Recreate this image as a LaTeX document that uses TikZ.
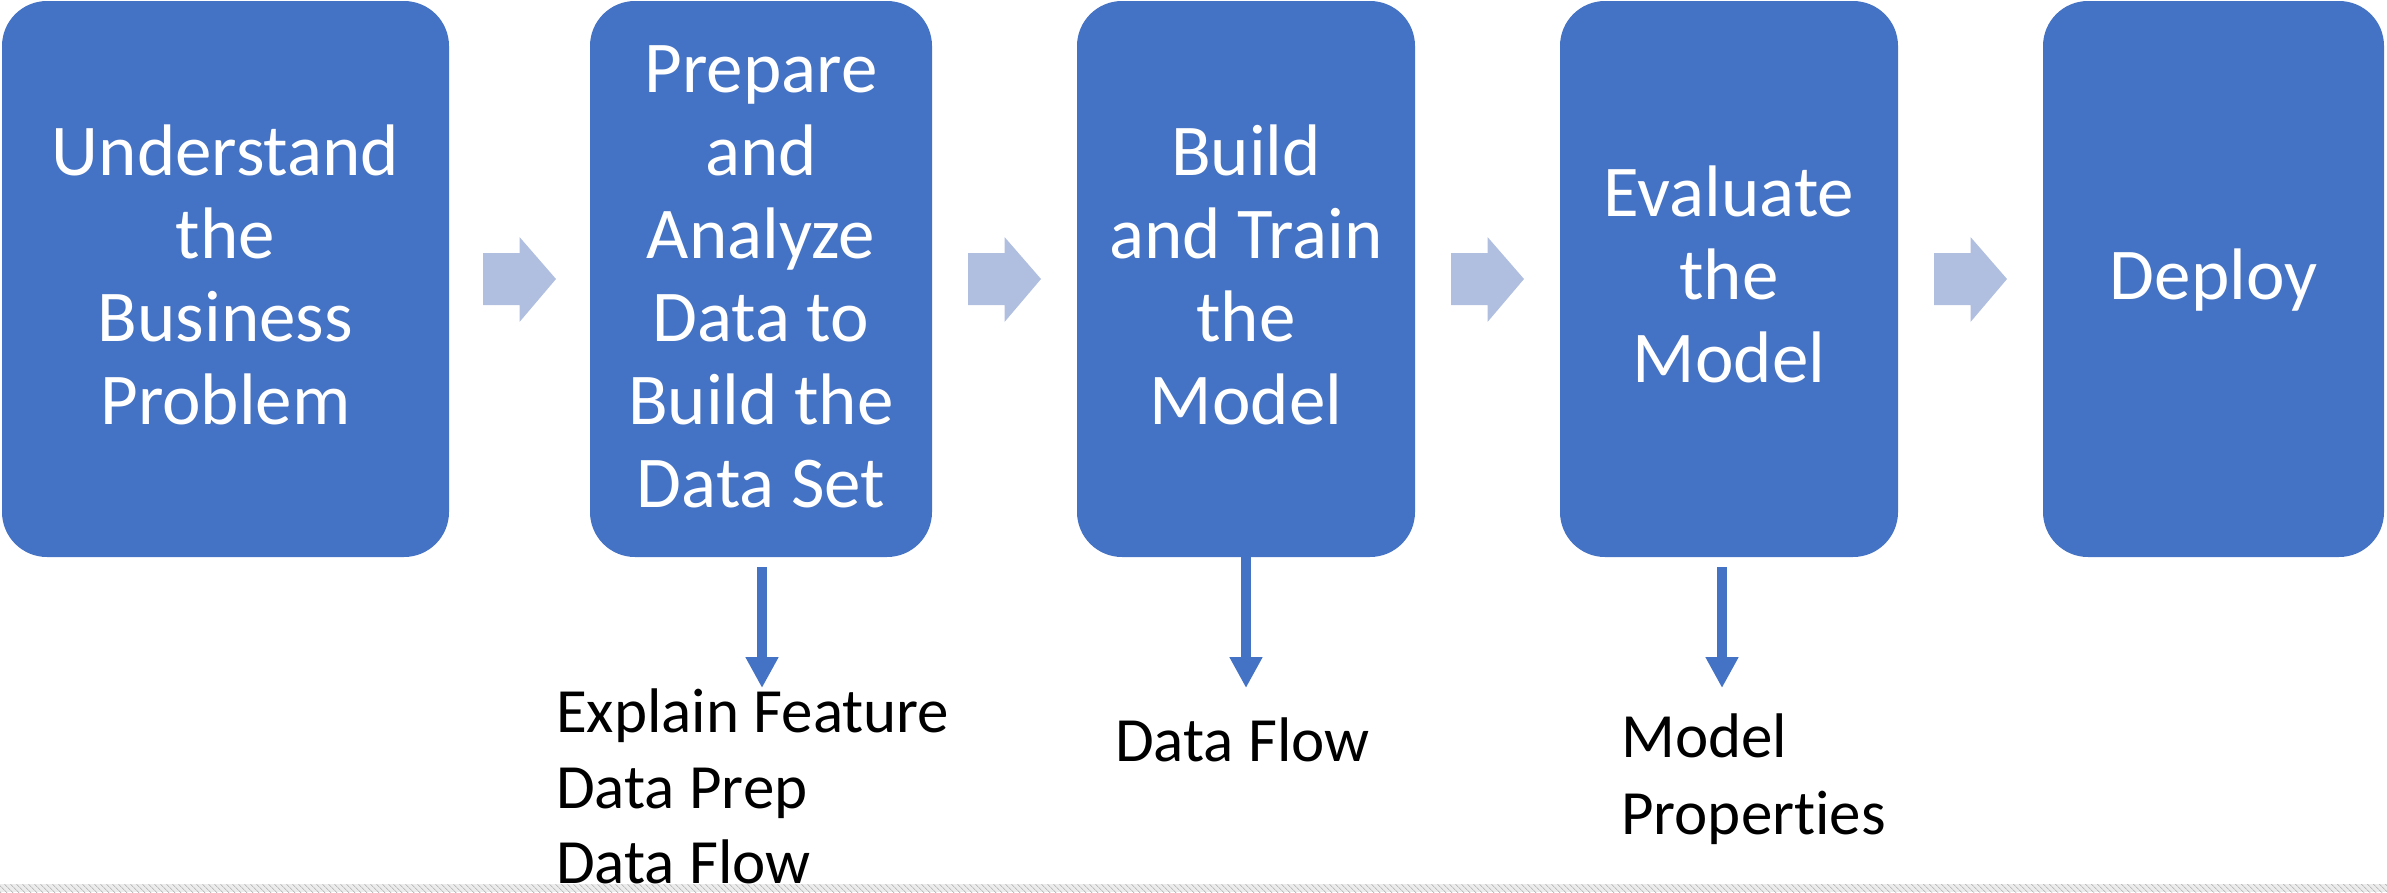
\documentclass[tikz,border=0pt]{standalone}
\usepackage{fontspec}
\setmainfont{Carlito}[Ligatures=NoCommon]
\usetikzlibrary{arrows.meta,calc,patterns.meta}
\definecolor{boxblue}{HTML}{4472C4}
\definecolor{lightarr}{RGB}{176,190,223}
\definecolor{bandbg}{HTML}{ECECEC}
\definecolor{bandln}{HTML}{BDBDBD}
\newcommand\bstrut{\rule[-0.25\baselineskip]{0pt}{\baselineskip}}
\tikzset{
  stepbox/.style={rectangle, rounded corners=45pt, fill=boxblue, text=white,
    inner sep=0pt, minimum height=556pt, align=center,
    font=\fontsize{73}{83}\selectfont},
  downarr/.style={draw=boxblue, line width=10pt,
    -{Triangle[width=31pt,length=31pt]}},
  blockarr/.style={fill=lightarr},
  outlabel/.style={anchor=base west, inner sep=0pt,
    font=\fontsize{63}{76.5}\selectfont, text=black}
}
\begin{document}
\begin{tikzpicture}[x=1pt,y=-1pt]
\useasboundingbox (0,0) rectangle (2387,892);
% boxes
\node[stepbox, minimum width=447pt] (b1) at (225.5,279)
  {\bstrut Understand\\the\\Business\\Problem\bstrut};
\node[stepbox, minimum width=342pt] (b2) at (761,279)
  {\bstrut Prepare\\and\\Analyze\\Data to\\Build the\\Data Set\bstrut};
\node[stepbox, minimum width=338pt] (b3) at (1246,279)
  {\bstrut Build\\and Train\\the\\Model\bstrut};
\node[stepbox, minimum width=338pt] (b4) at (1729,279)
  {\bstrut Evaluate\\the\\Model\bstrut};
\node[stepbox, minimum width=341pt] (b5) at (2213.5,279)
  {\bstrut Deploy\bstrut};
% block arrows between boxes
\foreach \a/\b in {b1/b2,b2/b3,b3/b4,b4/b5}{
  \coordinate (m) at ($(\a.east)!0.5!(\b.west)$);
  \fill[blockarr] ($(m)+(-36.5,-26)$) -- ($(m)+(0,-26)$) -- ($(m)+(0,-42)$)
    -- ($(m)+(36.5,0)$) -- ($(m)+(0,43)$) -- ($(m)+(0,26)$)
    -- ($(m)+(-36.5,26)$) -- cycle;
}
% down arrows
\coordinate (s2) at (762,567);
\coordinate (e2) at (762,688);
\coordinate (e3) at (1246,688);
\coordinate (s4) at (1722,567);
\coordinate (e4) at (1722,688);
\draw[downarr] (s2) -- (e2);
\draw[downarr] (b3.south -| e3) -- (e3);
\draw[downarr] (s4) -- (e4);
% labels
\node[outlabel] (l2a) at (556,732) {Explain Feature};
\node[outlabel] (l2b) at (556,808) {Data Prep};
\node[outlabel] (l2c) at (556,883) {Data Flow};
\node[outlabel] (l3) at (1115,761) {Data Flow};
\node[outlabel] (l4a) at (1621,757) {Model};
\node[outlabel] (l4b) at (1621,834) {Properties};
% bottom band
\fill[bandbg] (0,884) rectangle (2387,892);
\fill[pattern={Lines[angle=-45,distance=4pt,line width=0.9pt]}, pattern color=bandln]
  (0,884) rectangle (2387,892);
\end{tikzpicture}
\end{document}
